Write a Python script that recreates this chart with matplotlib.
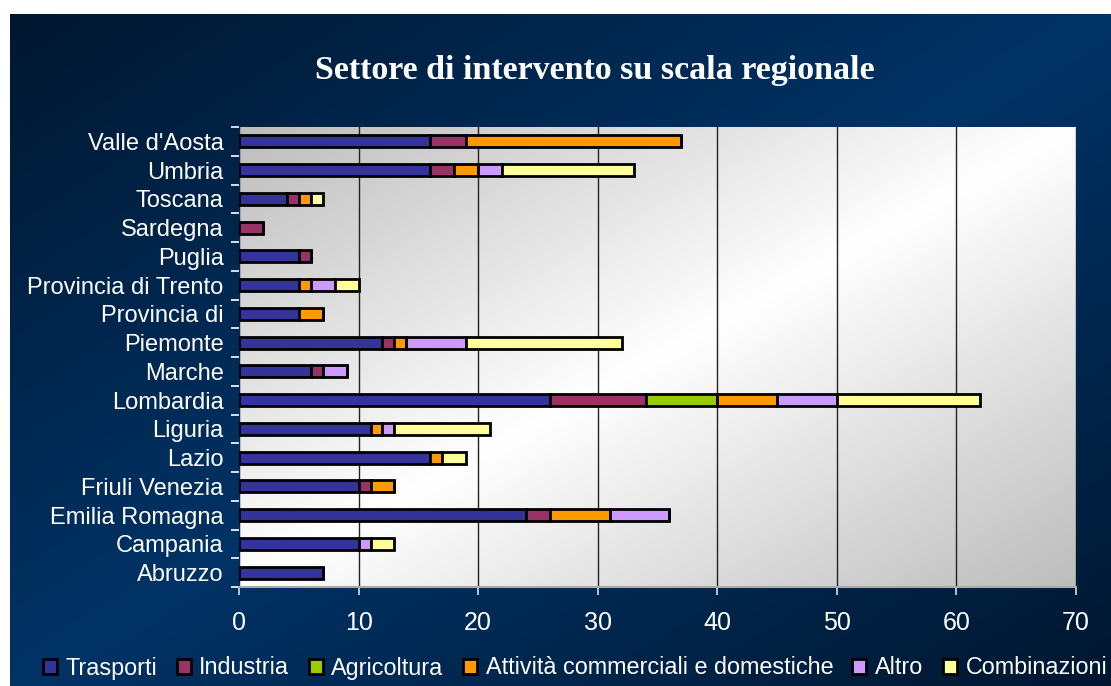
import numpy as np
import matplotlib
matplotlib.use("Agg")
import matplotlib.pyplot as plt
from matplotlib.ticker import FixedLocator

# dati (dal basso verso l'alto)
regioni = ["Abruzzo", "Campania", "Emilia Romagna", "Friuli Venezia", "Lazio",
           "Liguria", "Lombardia", "Marche", "Piemonte", "Provincia di",
           "Provincia di Trento", "Puglia", "Sardegna", "Toscana", "Umbria",
           "Valle d'Aosta"]
settori = ["Trasporti", "Industria", "Agricoltura",
           "Attività commerciali e domestiche", "Altro", "Combinazioni"]
colori = ["#333399", "#993366", "#99CC00", "#FF9900", "#CC99FF", "#FFFF99"]

trasporti    = [7, 10, 24, 10, 16, 11, 26, 6, 12, 5, 5, 5, 0, 4, 16, 16]
industria    = [0, 0, 2, 1, 0, 0, 8, 1, 1, 0, 0, 1, 2, 1, 2, 3]
agricoltura  = [0, 0, 0, 0, 0, 0, 6, 0, 0, 0, 0, 0, 0, 0, 0, 0]
attivita     = [0, 0, 5, 2, 1, 1, 5, 0, 1, 2, 1, 0, 0, 1, 2, 18]
altro        = [0, 1, 5, 0, 0, 1, 5, 2, 5, 0, 2, 0, 0, 0, 2, 0]
combinazioni = [0, 2, 0, 0, 2, 8, 12, 0, 13, 0, 2, 0, 0, 1, 11, 0]
serie = [trasporti, industria, agricoltura, attivita, altro, combinazioni]

W, H = 1111, 686
fig = plt.figure(figsize=(W / 100, H / 100), dpi=100, facecolor="white")

# sfondo blu scuro con sfumatura
bg = fig.add_axes([10 / W, 0, 1 - 10 / W, 1 - 14 / H], zorder=-10)
xx, yy = np.meshgrid(np.linspace(0, 1, 200), np.linspace(1, 0, 200))
d = np.abs(xx - yy)
c_mid = np.array([0x00, 0x33, 0x66]) / 255
c_edge = np.array([0x00, 0x17, 0x30]) / 255
img = c_mid[None, None, :] * (1 - d[..., None]) + c_edge[None, None, :] * d[..., None]
bg.imshow(img, extent=[0, 1, 0, 1], aspect="auto")
bg.axis("off")

ax = fig.add_axes([239 / W, 99 / H, 837 / W, 460 / H])
n = len(regioni)
y = np.arange(n)

# sfondo area del grafico: grigio agli angoli, bianco sulla diagonale
gx, gy = np.meshgrid(np.linspace(0, 1, 200), np.linspace(1, 0, 200))
g = np.abs(gx - gy)
gray = 1 - 0.26 * g
ax.imshow(np.dstack([gray, gray, gray]), extent=[0, 70, -0.5, n - 0.5],
          aspect="auto", zorder=0)

left = np.zeros(n)
for vals, nome, col in zip(serie, settori, colori):
    vals = np.array(vals, dtype=float)
    ax.barh(y, vals, left=left, height=0.42, color=col, edgecolor="black",
            linewidth=2, label=nome, zorder=3)
    left += vals

ax.set_xlim(0, 70)
ax.set_ylim(-0.5, n - 0.5)
ax.set_xticks(range(0, 71, 10))
ax.grid(axis="x", color="#222222", linewidth=1, zorder=1)
ax.set_axisbelow(True)

ax.set_yticks(y)
ax.set_yticklabels(regioni)
ax.yaxis.set_minor_locator(FixedLocator(np.arange(-0.5, n, 1.0)))
ax.tick_params(axis="y", which="major", length=0, pad=11, labelsize=17,
               labelcolor="white")
ax.tick_params(axis="y", which="minor", length=6, color="white", width=1.2)
ax.tick_params(axis="x", length=6, color="#dddddd", width=1.2, pad=11,
               labelsize=18, labelcolor="white")
for lab in ax.get_xticklabels() + ax.get_yticklabels():
    lab.set_family("Liberation Sans")

for s in ["top", "right"]:
    ax.spines[s].set_visible(False)
ax.spines["left"].set_color("#002a55")
ax.spines["bottom"].set_color("#aaaaaa")
ax.spines["bottom"].set_linewidth(1.5)

fig.text(595 / W, 1 - 70 / H, "Settore di intervento su scala regionale",
         ha="center", va="center", color="white", fontsize=24.5,
         fontweight="bold", family="Liberation Serif")

leg = fig.legend(loc="center", bbox_to_anchor=(575 / W, 1 - 668 / H), ncol=6,
                 frameon=False, handlelength=0.6, handleheight=0.6,
                 handletextpad=0.38, columnspacing=0.82,
                 prop={"family": "Liberation Sans", "size": 16.8})
for t in leg.get_texts():
    t.set_color("white")

fig.savefig("out.png", dpi=100, facecolor=fig.get_facecolor())
